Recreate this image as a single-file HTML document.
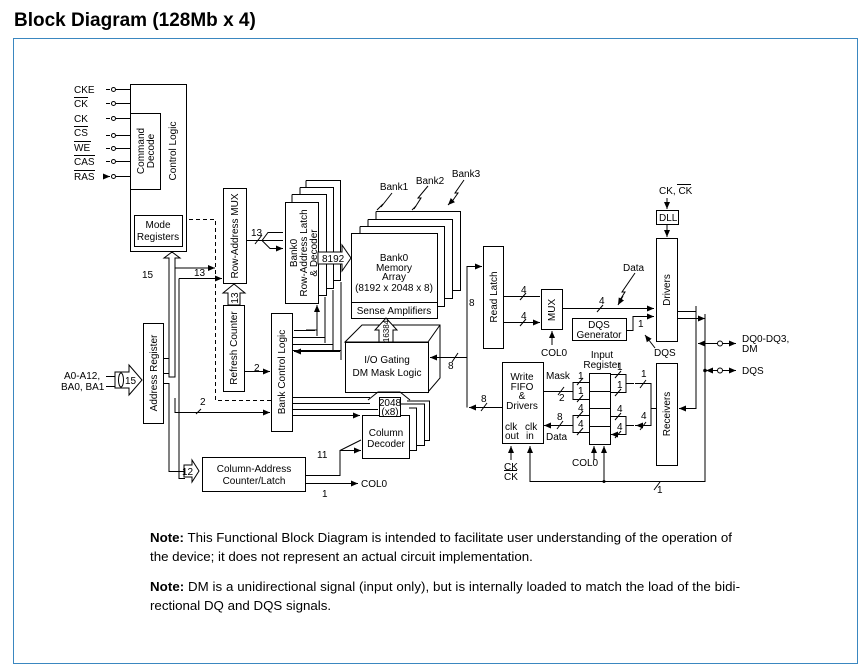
<!DOCTYPE html>
<html><head><meta charset="utf-8"><style>
html,body{margin:0;padding:0;background:#fff;width:865px;height:670px;overflow:hidden}
svg{display:block}
text{font-family:"Liberation Sans",Arial,sans-serif;fill:#000}
.t{font-size:10px}
.b{fill:#fff;stroke:#000;stroke-width:1}
.l{fill:none;stroke:#000;stroke-width:1}
</style></head><body>
<svg width="865" height="670" viewBox="0 0 865 670" xmlns="http://www.w3.org/2000/svg">
<defs>
<marker id="a" markerWidth="8" markerHeight="8" refX="7" refY="4" orient="auto" markerUnits="userSpaceOnUse"><path d="M0,1 L7,4 L0,7 Z" fill="#000"/></marker>
</defs>
<text x="14" y="26" style="font-size:19px;font-weight:bold">Block Diagram (128Mb x 4)</text>
<rect x="13.5" y="38.5" width="844" height="625" fill="none" stroke="#3a87c0" stroke-width="1"/>

<g class="t">
<text x="74" y="93">CKE</text>
<text x="74" y="107">CK</text><line x1="74" y1="97.5" x2="88" y2="97.5" stroke="#000"/>
<text x="74" y="122">CK</text>
<text x="74" y="136">CS</text><line x1="74" y1="126.5" x2="88" y2="126.5" stroke="#000"/>
<text x="74" y="151">WE</text><line x1="74" y1="141.5" x2="91" y2="141.5" stroke="#000"/>
<text x="74" y="165">CAS</text><line x1="74" y1="155.5" x2="95" y2="155.5" stroke="#000"/>
<text x="74" y="180">RAS</text><line x1="74" y1="170.5" x2="95" y2="170.5" stroke="#000"/>
</g>
<g class="l">
<path d="M106,89.5H110 M106,103.5H110 M106,118.5H110 M106,135.5H110 M106,148.5H110 M106,161.5H110 M106,176.5H110" marker-end="url(#a)"/>
<path d="M116,89.5H130 M116,103.5H130 M116,118.5H130 M116,135.5H130 M116,148.5H130 M116,161.5H130 M116,176.5H130"/>
<circle cx="113.5" cy="89.5" r="2"/><circle cx="113.5" cy="103.5" r="2"/><circle cx="113.5" cy="118.5" r="2"/><circle cx="113.5" cy="135.5" r="2"/><circle cx="113.5" cy="148.5" r="2"/><circle cx="113.5" cy="161.5" r="2"/><circle cx="113.5" cy="176.5" r="2"/>
</g>
<rect class="b" x="130.5" y="84.5" width="56" height="167"/>
<rect class="b" x="130.5" y="113.5" width="30" height="76"/>
<rect class="b" x="134.5" y="215.5" width="48" height="31"/>
<g class="t" text-anchor="middle">
<text transform="translate(144,151) rotate(-90)"><tspan x="0" y="0">Command</tspan><tspan x="0" y="10">Decode</tspan></text>
<text transform="translate(176,151) rotate(-90)">Control Logic</text>
<text x="158" y="228">Mode</text><text x="158" y="240">Registers</text>
</g>

<path class="l" stroke-dasharray="4,3" d="M189,219.5H215.5V400.5H272"/>

<rect class="b" x="223.5" y="188.5" width="23" height="95"/>
<text class="t" text-anchor="middle" transform="translate(238,236) rotate(-90)">Row-Address MUX</text>
<rect class="b" x="223.5" y="305.5" width="21" height="86"/>
<text class="t" text-anchor="middle" transform="translate(237,348) rotate(-90)">Refresh Counter</text>
<path class="b" d="M228,305V293H223L234,284L245,293H240V305Z"/>
<text class="t" text-anchor="middle" transform="translate(238,298) rotate(-90)">13</text>

<text class="t" x="142" y="278">15</text>
<path class="b" d="M169,377V258H164L172,252L180,258H175V377Z"/>
<path class="l" d="M163,358.5H169"/>
<path class="l" d="M175,268H215" marker-end="url(#a)"/>
<path class="l" d="M179,278.5H222" marker-end="url(#a)"/>
<path class="l" d="M179,278.5V478.5H185"/>
<text class="t" x="194" y="276">13</text>

<rect class="b" x="143.5" y="323.5" width="20" height="100"/>
<text class="t" text-anchor="middle" transform="translate(157,373) rotate(-90)">Address Register</text>
<path class="l" d="M163,373.5H169 M163,383.5H169V471.5H185"/>
<path class="b" d="M115,372H129V365L142,380L129,395V388H115Z"/>
<ellipse class="b" cx="121" cy="380" rx="2.5" ry="7"/>
<text class="t" x="125" y="384">15</text>
<text class="t" x="64" y="379">A0-A12,</text>
<text class="t" x="61" y="390">BA0, BA1</text>
<path class="l" d="M106,376.5H115 M106,386.5H115"/>
<path class="l" d="M175,398V412.5H270" marker-end="url(#a)"/>
<text class="t" x="200" y="405">2</text>
<path class="l" d="M196,414L201,409"/>
<path class="l" d="M244,371.5H270" marker-end="url(#a)"/>
<text class="t" x="254" y="371">2</text>

<rect class="b" x="202.5" y="457.5" width="103" height="34"/>
<text class="t" text-anchor="middle" x="254" y="472">Column-Address</text>
<text class="t" text-anchor="middle" x="254" y="484">Counter/Latch</text>
<path class="b" d="M184,465H192V460L199,471L192,482V477H184Z"/>
<text class="t" x="182" y="475">12</text>
<path class="l" d="M305,475.5H340V450.5H361" marker-end="url(#a)"/>
<path class="l" d="M340,450.5L361,440" />
<text class="t" x="317" y="458">11</text>
<path class="l" d="M305,483.5H358" marker-end="url(#a)"/>
<text class="t" x="361" y="487">COL0</text>
<text class="t" x="322" y="497">1</text>

<path class="l" d="M306,180.5H340.5V280.5H333 M300,187.5H333.5V288.5H326 M292,194.5H326.5V295.5H318"/>
<path class="l" d="M306,180.5V187 M300,187.5V194 M292,194.5V202"/>
<rect class="b" x="285.5" y="202.5" width="33" height="101"/>
<g class="t" text-anchor="middle">
<text transform="translate(297,253) rotate(-90)"><tspan x="0" y="0">Bank0</tspan><tspan x="0" y="10">Row-Address Latch</tspan><tspan x="0" y="20">&amp; Decoder</tspan></text>
</g>
<path class="l" d="M246,240.5H262L268,232.5H283 M262,240.5H283 M262,240.5L270,248.5H283" />
<path class="l" d="M275,232.5H283 M275,240.5H283 M275,248.5H283" marker-end="url(#a)"/>
<text class="t" x="251" y="236">13</text>
<path class="l" d="M255,244L262,235"/>
<path class="b" d="M318,252H342V245L351,258L342,271V264H318Z"/>
<text class="t" x="322" y="262">8192</text>
<path class="l" d="M341,288V350.5H292 M333,297V344.5H292 M325,304V337.5H292 M317,311V330H306" />
<path class="l" d="M341,360V282 M333,350V290 M325,343V297 M317,336V305" marker-end="url(#a)"/>
<path class="l" d="M315,330.5H294 M322,337.5H294 M330,344.5H294 M340,351.5H294" marker-end="url(#a)"/>

<rect class="b" x="271.5" y="313.5" width="21" height="118"/>
<text class="t" text-anchor="middle" transform="translate(285,372) rotate(-90)">Bank Control Logic</text>
<path class="l" d="M292,397.5H368 M292,403.5H368 M292,409.5H378 M292,415.5H360" />

<path class="l" d="M376,211.5H460.5V290.5H453 M368,219.5H452.5V298.5H445 M360,226.5H444.5V306.5H437"/>
<path class="l" d="M376,211.5V219 M368,219.5V226 M360,226.5V233"/>
<rect class="b" x="351.5" y="233.5" width="86" height="85"/>
<line x1="351.5" y1="302.5" x2="437.5" y2="302.5" stroke="#000"/>
<g class="t" text-anchor="middle">
<text x="394" y="261">Bank0</text><text x="394" y="271">Memory</text><text x="394" y="280">Array</text><text x="394" y="291">(8192 x 2048 x 8)</text>
<text x="394" y="314">Sense Amplifiers</text>
<text x="394" y="190">Bank1</text><text x="430" y="184">Bank2</text><text x="466" y="177">Bank3</text>
</g>
<path class="l" d="M392,193L381,207 M428,186L418,198L421,198L414,209 M464,180L455,193L458,193L451,203" />
<path class="l" d="M383,204L377,210 M416,206L412,210 M453,200L448,205" marker-end="url(#a)"/>

<path class="b" d="M345,342L362,325H440V378L428,392V342Z"/>
<path class="l" d="M345,342H428L440,325"/>
<rect class="b" x="345.5" y="342.5" width="83" height="50"/>
<text class="t" text-anchor="middle" x="387" y="363">I/O Gating</text>
<text class="t" text-anchor="middle" x="387" y="376">DM Mask Logic</text>
<path class="b" d="M379,342V330H375L386,318L397,330H393V342Z"/>
<text class="t" text-anchor="middle" transform="translate(389,331) rotate(-90)" style="font-size:8px">16384</text>
<path class="l" d="M430,357.5H467" />
<path class="l" d="M440,357.5H430" marker-end="url(#a)"/>
<text class="t" x="448" y="369">8</text>
<path class="l" d="M452,362L458,353"/>

<path class="l" d="M407,401H429.5V440.5H424 M400,404H424.5V445.5H416 M409,408H416.5V450.5H409"/>
<rect class="b" x="362.5" y="415.5" width="47" height="43"/>
<text class="t" text-anchor="middle" x="386" y="436">Column</text>
<text class="t" text-anchor="middle" x="386" y="447">Decoder</text>
<path class="l" d="M368,400L378,392H400L410,400"/>
<rect class="b" x="379.5" y="397.5" width="21" height="19"/>
<text class="t" text-anchor="middle" x="390" y="406">2048</text>
<text class="t" text-anchor="middle" x="390" y="415">(x8)</text>
<path class="l" d="M360,397.5H370 M360,403.5H370 M350,409.5H378 M340,415.5H360" marker-end="url(#a)"/>

<rect class="b" x="483.5" y="246.5" width="20" height="102"/>
<text class="t" text-anchor="middle" transform="translate(497,297) rotate(-90)">Read Latch</text>
<path class="l" d="M467,357V266.5H482" marker-end="url(#a)"/>
<text class="t" x="469" y="306">8</text>
<path class="l" d="M467,357V407.5"/>
<path class="l" d="M503,296.5H540 M503,322.5H540" marker-end="url(#a)"/>
<text class="t" x="521" y="293">4</text><text class="t" x="521" y="319">4</text>
<path class="l" d="M520,300L526,293 M520,326L526,319"/>

<rect class="b" x="541.5" y="289.5" width="21" height="40"/>
<text class="t" text-anchor="middle" transform="translate(555,310) rotate(-90)">MUX</text>
<path class="l" d="M552,345V331" marker-end="url(#a)"/>
<text class="t" x="541" y="356">COL0</text>
<path class="l" d="M562,308.5H654" marker-end="url(#a)"/>
<text class="t" x="599" y="304">4</text>
<path class="l" d="M597,312L603,305"/>
<text class="t" x="623" y="271">Data</text>
<path class="l" d="M635,273L622,292L625,292L620,300" />
<path class="l" d="M623,296L618,305" marker-end="url(#a)"/>

<rect class="b" x="572.5" y="318.5" width="54" height="22"/>
<text class="t" text-anchor="middle" x="599" y="328">DQS</text>
<text class="t" text-anchor="middle" x="599" y="338">Generator</text>
<path class="l" d="M626,330.5H633V316.5H654" marker-end="url(#a)"/>
<text class="t" x="638" y="327">1</text>
<text class="t" x="654" y="356">DQS</text>
<path class="l" d="M655,348L645,335" marker-end="url(#a)"/>

<text class="t" x="659" y="194">CK, CK</text>
<line x1="677" y1="184.5" x2="691" y2="184.5" stroke="#000"/>
<path class="l" d="M667,198V209" marker-end="url(#a)"/>
<rect class="b" x="656.5" y="210.5" width="22" height="14"/>
<text class="t" x="659" y="221">DLL</text>
<path class="l" d="M667,225V237" marker-end="url(#a)"/>
<rect class="b" x="656.5" y="238.5" width="21" height="103"/>
<text class="t" text-anchor="middle" transform="translate(670,290) rotate(-90)">Drivers</text>
<path class="l" d="M677,311.5H696 M677,318.5H705" marker-end="url(#a)"/>
<path class="l" d="M696,306V408.5H679" marker-end="url(#a)"/>
<path class="l" d="M705,314V481.5H530V446"/>
<path class="l" d="M530,470V446" marker-end="url(#a)"/>
<path class="l" d="M604,481V446" marker-end="url(#a)"/>
<circle cx="604" cy="481.5" r="1.5"/>
<text class="t" x="657" y="493">1</text>
<path class="l" d="M654,490L660,482"/>
<path class="l" d="M712,343.5H698" marker-end="url(#a)"/>
<path class="l" d="M712,343.5H718 M722,343.5H736" />
<path class="l" d="M726,343.5H736" marker-end="url(#a)"/>
<circle class="b" cx="720" cy="343.5" r="2.5"/>
<text class="t" x="742" y="342">DQ0-DQ3,</text>
<text class="t" x="742" y="352">DM</text>
<path class="l" d="M712,370.5H706" marker-end="url(#a)"/>
<path class="l" d="M712,370.5H718 M722,370.5H736"/>
<path class="l" d="M726,370.5H736" marker-end="url(#a)"/>
<circle class="b" cx="720" cy="370.5" r="2.5"/>
<text class="t" x="742" y="374">DQS</text>
<circle cx="705" cy="370.5" r="1.8"/>

<rect class="b" x="656.5" y="363.5" width="21" height="102"/>
<text class="t" text-anchor="middle" transform="translate(670,414) rotate(-90)">Receivers</text>
<path class="l" d="M656,408.5H651V383.5H635 M651,408.5V425.5H635" />
<path class="l" d="M640,383.5H636 M640,425.5H636" marker-end="url(#a)"/>
<text class="t" x="641" y="377">1</text><text class="t" x="641" y="419">4</text>
<path class="l" d="M640,388L646,380 M640,430L646,422"/>
<path class="l" d="M634,383.5H626V374.5H612 M626,383.5V392.5H612 M634,425.5H626V416.5H612 M626,425.5V434.5H612"/>
<path class="l" d="M620,374.5H611 M620,392.5H611 M620,416.5H611 M620,434.5H611" marker-end="url(#a)"/>
<g class="t"><text x="617" y="370">1</text><text x="617" y="388">1</text><text x="617" y="412">4</text><text x="617" y="430">4</text></g>
<path class="l" d="M615,378L621,371 M615,396L621,389 M615,420L621,413 M615,438L621,431"/>

<rect class="b" x="589.5" y="373.5" width="21" height="71"/>
<path class="l" d="M589,391.5H610 M589,408.5H610 M589,426.5H610"/>
<text class="t" text-anchor="middle" x="602" y="358">Input</text>
<text class="t" text-anchor="middle" x="602" y="368">Register</text>
<path class="l" d="M589,382.5H573V399.5H589 M589,415.5H573V432.5H589"/>
<g class="t"><text x="578" y="379">1</text><text x="578" y="394">1</text><text x="578" y="411">4</text><text x="578" y="427">4</text></g>
<path class="l" d="M577,385L583,378 M577,402L583,395 M577,418L583,411 M577,435L583,428"/>
<path class="l" d="M594,460V446" marker-end="url(#a)"/>
<text class="t" x="572" y="466">COL0</text>
<path class="l" d="M573,391.5H544 M573,425.5H544" marker-end="url(#a)"/>
<text class="t" x="546" y="379">Mask</text>
<text class="t" x="559" y="401">2</text>
<path class="l" d="M558,395L564,387"/>
<text class="t" x="557" y="420">8</text>
<path class="l" d="M557,429L563,421"/>
<text class="t" x="546" y="440">Data</text>

<rect class="b" x="502.5" y="362.5" width="41" height="81"/>
<g class="t" text-anchor="middle">
<text x="522" y="380">Write</text><text x="522" y="390">FIFO</text><text x="522" y="399">&amp;</text><text x="522" y="409">Drivers</text>
</g>
<text class="t" x="505" y="430">clk</text><text class="t" x="505" y="439">out</text>
<text class="t" x="525" y="430">clk</text><text class="t" x="526" y="439">in</text>
<path class="l" d="M502,407.5H469" marker-end="url(#a)"/>
<text class="t" x="481" y="402">8</text>
<path class="l" d="M481,411L487,403"/>
<path class="l" d="M511,460V446" marker-end="url(#a)"/>
<text class="t" x="504" y="470">CK</text><line x1="504" y1="470.5" x2="517" y2="470.5" stroke="#000"/>
<text class="t" x="504" y="480">CK</text>

<g style="font-size:13.3px">
<text x="150" y="542" textLength="582"><tspan font-weight="bold">Note:</tspan>  This Functional Block Diagram is intended to facilitate user understanding of the operation of</text>
<text x="150" y="561">the device; it does not represent an actual circuit implementation.</text>
<text x="150" y="591" textLength="590"><tspan font-weight="bold">Note:</tspan>  DM is a unidirectional signal (input only), but is internally loaded to match the load of the bidi-</text>
<text x="150" y="610">rectional DQ and DQS signals.</text>
</g>
</svg>
</body></html>
